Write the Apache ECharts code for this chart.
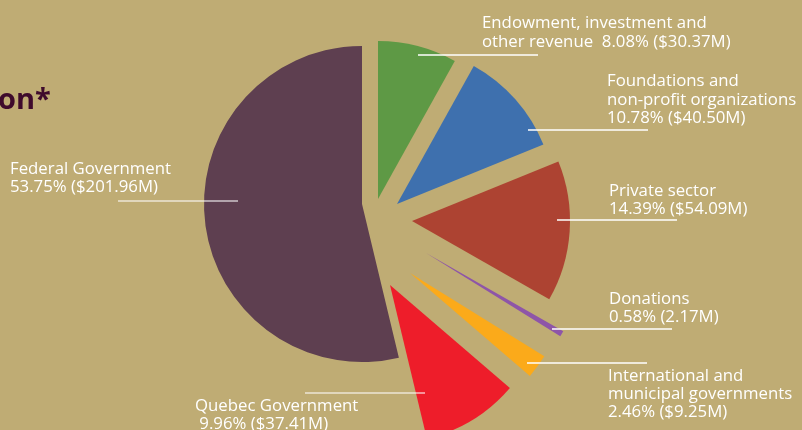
<!DOCTYPE html>
<html>
<head>
<meta charset="utf-8">
<script src="https://cdn.jsdelivr.net/npm/echarts@6/dist/echarts.min.js"></script>
<style>
html,body{margin:0;padding:0;background:#BFAC74;}
#chart{width:802px;height:430px;}
</style>
</head>
<body>
<div id="chart"></div>
<script>
// ---- data ----
const categories = [
  'Endowment, investment and\nother revenue',
  'Foundations and\nnon-profit organizations',
  'Private sector',
  'Donations',
  'International and\nmunicipal governments',
  'Quebec Government',
  'Federal Government'
];
const shares = [8.08, 10.78, 14.39, 0.58, 2.46, 9.96, 53.75];
const amounts = [30.37, 40.50, 54.09, 2.17, 9.25, 37.41, 201.96];
const amountPrefix = ['$', '$', '$', '', '$', '$', '$'];
const separators = ['  ', '\n', '\n', '\n', '\n', '\n ', '\n'];
const colors = ['#5E9945', '#3E70AE', '#AD4332', '#8E55A8', '#FBAA1A', '#EE1D2A', '#5E3F50'];

// ---- layout (positions only) ----
const baseCenter = [362, 204];
const pieRadius = 158;
const explode = [[16, -5], [35, 0], [50, 17], [64, 49], [48, 69], [28, 81], [0, 0]];
const labelPos = [[482, 14.3], [607, 72.3], [609, 181.7], [609, 290], [608, 366.7], [195, 396.7], [10, 160]];
const lineSpan = [[418, 538, 55], [528, 648, 130], [557, 677, 220], [552, 672, 329], [527, 647, 363], [305, 425, 393], [118, 238, 201]];
const lineColor = ['#FFFFFF', '#FFFFFF', '#FFFFFF', '#FFFFFF', '#FFFFFF', 'rgba(255,255,255,0.7)', 'rgba(255,255,255,0.7)'];

function labelText(i) {
  return categories[i] + separators[i] + shares[i].toFixed(2) + '% (' + amountPrefix[i] + amounts[i].toFixed(2) + 'M)';
}

// one pie series per slice, each shifted by its own offset
const sliceSeries = shares.map(function (v, i) {
  return {
    type: 'pie',
    center: [baseCenter[0] + explode[i][0], baseCenter[1] + explode[i][1]],
    radius: pieRadius,
    startAngle: 90,
    clockwise: true,
    silent: true,
    animation: false,
    emphasis: { disabled: true },
    z: 2,
    label: { show: false },
    labelLine: { show: false },
    data: shares.map(function (s, j) {
      return {
        name: categories[j],
        value: s,
        itemStyle: { color: j === i ? colors[j] : 'rgba(0,0,0,0)', borderWidth: 0 }
      };
    })
  };
});

// label series drawn above the slices
const labelSeries = {
  type: 'pie',
  center: baseCenter,
  radius: pieRadius,
  startAngle: 90,
  clockwise: true,
  silent: true,
  animation: false,
  avoidLabelOverlap: false,
  emphasis: { disabled: true },
  z: 5,
  itemStyle: { color: 'rgba(0,0,0,0)', borderWidth: 0 },
  label: {
    show: true,
    position: 'outside',
    color: '#FFFFFF',
    fontFamily: 'Open Sans',
    fontSize: 16.8,
    lineHeight: 18.3,
    formatter: function (p) { return labelText(p.dataIndex); }
  },
  labelLine: { show: true, smooth: false, lineStyle: { width: 1.5 } },
  labelLayout: function (p) {
    const i = p.dataIndex;
    const s = lineSpan[i];
    return {
      x: labelPos[i][0],
      y: labelPos[i][1],
      align: 'left',
      verticalAlign: 'top',
      labelLinePoints: [[s[0], s[2]], [s[0], s[2]], [s[1], s[2]]]
    };
  },
  data: shares.map(function (s, j) {
    return {
      name: categories[j],
      value: s,
      labelLine: { lineStyle: { color: lineColor[j] } }
    };
  })
};

const chart = echarts.init(document.getElementById('chart'), null, { renderer: 'canvas' });
chart.setOption({
  backgroundColor: '#BFAC74',
  animation: false,
  title: {
    text: 'on*',
    left: -2,
    top: 86,
    padding: 0,
    textStyle: { color: '#3F0B2C', fontFamily: 'Open Sans', fontWeight: 'bold', fontSize: 29 }
  },
  series: sliceSeries.concat([labelSeries])
});
</script>
</body>
</html>
